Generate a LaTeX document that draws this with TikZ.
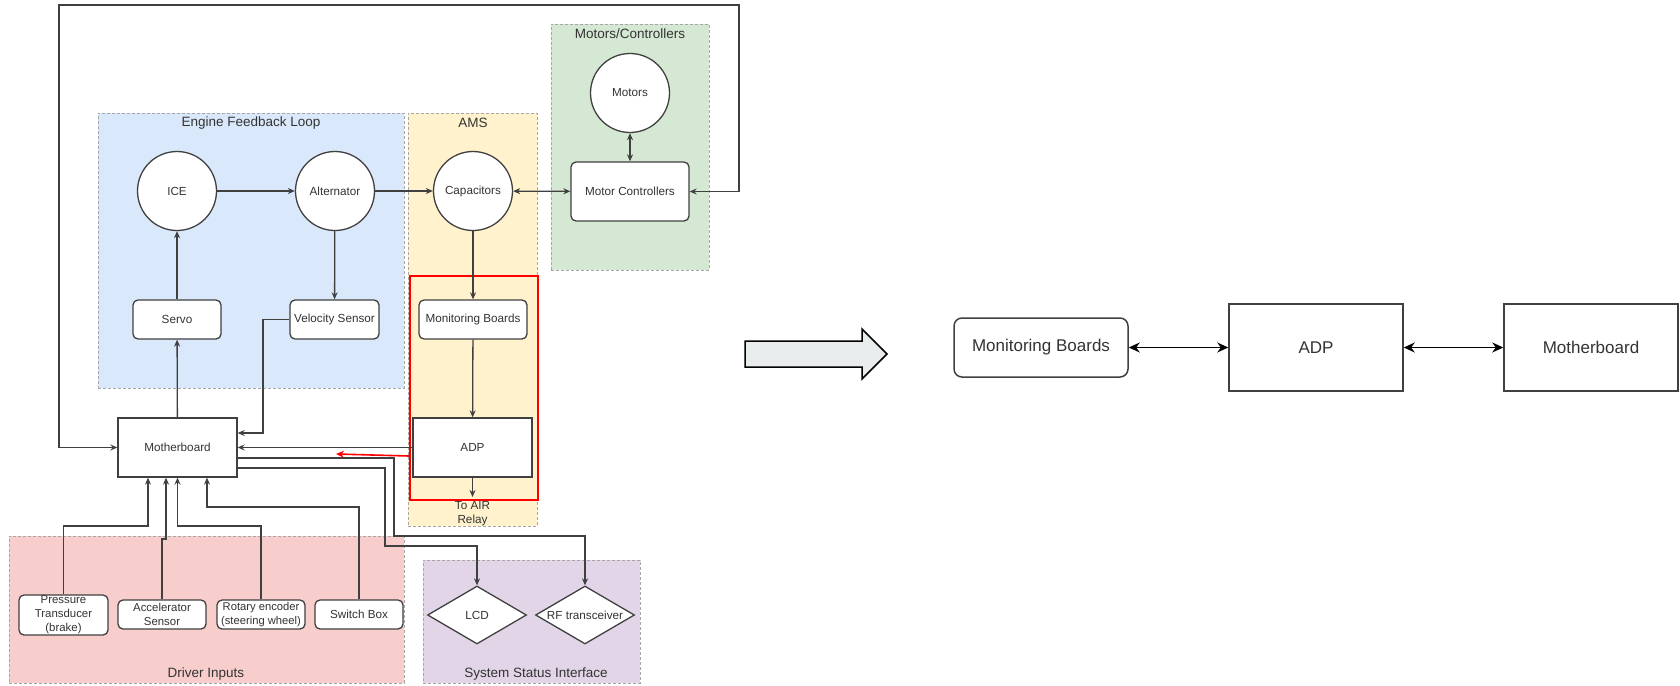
\documentclass[tikz,border=0pt]{standalone}
\usepackage{fontspec}
\setmainfont{Liberation Sans}
\usetikzlibrary{arrows.meta,shapes.geometric,calc}
\definecolor{eflfill}{HTML}{DAE8FC}
\definecolor{amsfill}{HTML}{FFF2CC}
\definecolor{motfill}{HTML}{D5E8D4}
\definecolor{drvfill}{HTML}{F8CECC}
\definecolor{sysfill}{HTML}{E1D5E7}
\definecolor{grpline}{HTML}{A6A6A6}
\definecolor{ln}{HTML}{404040}
\definecolor{txt}{HTML}{333333}
\definecolor{blockfill}{HTML}{E8ECEC}
\tikzset{
  lbl/.style={font=\fontsize{11.7}{14}\selectfont, text=txt},
  grp/.style={draw=grpline, dash pattern=on 3pt off 2pt, line width=0.8pt, inner sep=0pt},
  grptitle/.style={font=\fontsize{13.5}{16}\selectfont, text=txt, inner sep=0pt},
  circ/.style={circle, draw=ln, fill=white, line width=1.3pt, minimum size=79pt, inner sep=0pt, lbl},
  rbox/.style={rectangle, rounded corners=5pt, draw=ln, fill=white, line width=1.3pt, inner sep=0pt, lbl, align=center},
  sbox/.style={rectangle, draw=ln, fill=white, line width=1.3pt, inner sep=0pt, lbl},
  dmd/.style={diamond, aspect=1.7, draw=ln, fill=white, line width=1.3pt, inner sep=0pt, minimum width=99pt, minimum height=58pt, lbl},
  conn/.style={draw=ln, line width=1.3pt, -{Stealth[length=7pt,width=6pt]}},
  conntwo/.style={draw=ln, line width=1.3pt, {Stealth[length=7pt,width=6pt]}-{Stealth[length=7pt,width=6pt]}},
  redconn/.style={draw=red, line width=1.6pt, -{Stealth[length=8pt,width=7pt]}},
  rlbl/.style={font=\fontsize{17}{20}\selectfont, text=txt},
  rrbox/.style={rectangle, rounded corners=8pt, draw=ln, fill=white, line width=1.5pt, inner sep=0pt, rlbl},
  rsbox/.style={rectangle, draw=ln, fill=white, line width=1.5pt, inner sep=0pt, rlbl},
  rconn/.style={draw=black, line width=1.5pt, {Stealth[length=11pt,width=10pt]}-{Stealth[length=11pt,width=10pt]}},
}
\begin{document}
\begin{tikzpicture}[x=1pt,y=-1pt]
\useasboundingbox (0,0) rectangle (1680,685);
% ---------- groups ----------
\node[grp, fill=eflfill, minimum width=306pt, minimum height=275pt] (gefl) at (251,250.5) {};
\node[grp, fill=amsfill, minimum width=129pt, minimum height=413pt] (gams) at (472.5,319.5) {};
\node[grp, fill=motfill, minimum width=158pt, minimum height=246pt] (gmot) at (630,147) {};
\node[grp, fill=drvfill, minimum width=395pt, minimum height=147pt] (gdrv) at (206.5,609.5) {};
\node[grp, fill=sysfill, minimum width=217pt, minimum height=123pt] (gsys) at (531.5,621.5) {};
\node[grptitle] (tefl) at (251,123) {Engine Feedback Loop};
\node[grptitle] (tams) at (473,123) {AMS};
\node[grptitle] (tmot) at (630,34) {Motors/Controllers};
\node[grptitle] (tdrv) at (206,674) {Driver Inputs};
\node[grptitle] (tsys) at (536,674) {System Status Interface};
% red highlight
\node[draw=red, line width=2pt, minimum width=128pt, minimum height=224pt, inner sep=0pt] (redbox) at (474,388) {};
% ---------- nodes ----------
\node[circ] (ice) at (177,191) {ICE};
\node[circ] (alt) at (335,191) {Alternator};
\node[circ] (cap) at (473,191) {Capacitors};
\node[circ] (mot) at (630,93) {Motors};
\node[rbox, minimum width=118pt, minimum height=59pt] (mc) at (630,191.5) {Motor Controllers};
\node[rbox, minimum width=88pt, minimum height=39pt] (servo) at (177,319.5) {Servo};
\node[rbox, minimum width=89pt, minimum height=39pt] (vs) at (334.5,319.5) {Velocity Sensor};
\node[rbox, minimum width=108pt, minimum height=39pt] (mb) at (473,319.5) {Monitoring Boards};
\node[sbox, minimum width=119pt, minimum height=59pt] (moth) at (177.5,447.5) {Motherboard};
\node[sbox, minimum width=119pt, minimum height=59pt] (adp) at (472.5,447.5) {ADP};
\node[lbl, align=center, inner sep=0pt] (air) at (472.5,514) {To AIR\\Relay};
\coordinate (airpt) at (472.5,497);
\node[rbox, minimum width=89pt, minimum height=40pt, font=\fontsize{11.4}{13.8}\selectfont] (pt) at (63.5,615) {Pressure\\Transducer\\(brake)};
\node[rbox, minimum width=88pt, minimum height=29pt, font=\fontsize{11.4}{13.8}\selectfont] (acc) at (162,614.5) {Accelerator\\Sensor};
\node[rbox, minimum width=88pt, minimum height=29pt, font=\fontsize{11.2}{13.8}\selectfont] (rot) at (261,614.5) {Rotary encoder\\(steering wheel)};
\node[rbox, minimum width=88pt, minimum height=29pt] (sw) at (359,614.5) {Switch Box};
\node[dmd] (lcd) at (477,615) {LCD};
\node[dmd] (rf) at (585,615) {RF transceiver};
% ---------- connectors (left) ----------
\draw[conn] (ice) -- (alt);
\draw[conn] (alt) -- (cap);
\draw[conntwo] (cap) -- (mc);
\draw[conntwo] (mot) -- (mc);
\draw[conn] (cap) -- (mb);
\draw[conn] (mb) -- (adp);
\draw[conn] (adp) -- (airpt);
\draw[conn] (alt) -- (vs);
\draw[conn] (servo) -- (ice);
\draw[conn] (moth) -- (servo);
\draw[conn] (vs.west) -| (263,433) -- ($(moth.east)+(0,-14.5)$);
\draw[conn] (adp) -- (moth);
\coordinate (redstart) at (409,456);
\coordinate (redtip) at (336,454);
\draw[redconn] (redstart) -- (redtip);
\draw[conn] ($(moth.east)+(0,10.5)$) -- (394,458) -- (394,536) -| (rf.north);
\draw[conn] ($(moth.east)+(0,20.5)$) -- (385,468) -- (385,546) -| (lcd.north);
\draw[conn] (pt.north) -- (63.5,526) -| ($(moth.south)+(-29.5,0)$);
\draw[conn] (acc.north) -- (162,539) -- (166,539) -- ($(moth.south)+(-11.5,0)$);
\draw[conn] (rot.north) -- (261,526) -| (moth.south);
\draw[conn] (sw.north) -- (359,507) -| ($(moth.south)+(29.5,0)$);
\draw[conntwo] (moth.west) -- (59,447.5) -- (59,5) -- (739,5) -- (739,191.5) -- (mc.east);
% ---------- right side ----------
\draw[draw=black, fill=blockfill, line width=1.5pt, line join=miter] (745,341) -- (862,341) -- (862,329) -- (887,354) -- (862,379) -- (862,367) -- (745,367) -- cycle;
\node[rrbox, minimum width=174pt, minimum height=59pt] (mbR) at (1041,347.5) {Monitoring Boards};
\node[rsbox, minimum width=174pt, minimum height=87pt] (adpR) at (1316,347.5) {ADP};
\node[rsbox, minimum width=174pt, minimum height=87pt] (mothR) at (1591,347.5) {Motherboard};
\draw[rconn] (mbR) -- (adpR);
\draw[rconn] (adpR) -- (mothR);
\end{tikzpicture}
\end{document}
